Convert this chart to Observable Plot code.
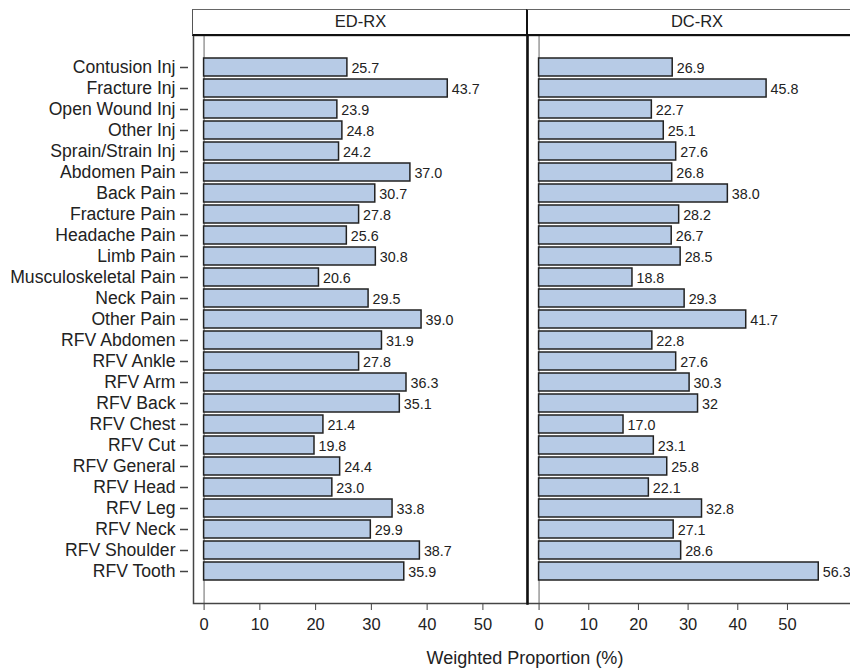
<!DOCTYPE html>
<html><head><meta charset="utf-8">
<script src="https://cdn.jsdelivr.net/npm/d3@7"></script>
<script src="https://cdn.jsdelivr.net/npm/@observablehq/plot@0.6"></script>
<style>
html,body{margin:0;padding:0;background:#fff;overflow:hidden;}
#wrap{position:relative;width:850px;height:669px;overflow:hidden;font-family:"Liberation Sans",Arial,sans-serif;color:#222;}
.strip{position:absolute;top:9px;height:27px;box-sizing:border-box;border-top:1.5px solid #666;border-bottom:2.5px solid #111;text-align:center;font-size:16.5px;line-height:23px;}
.pl{position:absolute;top:0;}
.pl svg{max-width:none !important;}
#xtitle{position:absolute;top:648px;left:325px;width:400px;text-align:center;font-size:18px;}
</style>
</head><body>
<div id="wrap">
  <div id="left" class="pl" style="left:0px;width:528px;"></div>
  <div id="right" class="pl" style="left:517px;width:345px;"></div>
  <div class="strip" style="left:192px;width:336px;border-left:1.5px solid #555;">ED-RX</div>
  <div class="strip" style="left:526px;width:340px;border-left:2.5px solid #111;">DC-RX</div>
  <div id="xtitle">Weighted Proportion (%)</div>
</div>
<script>
const categories = ["Contusion Inj","Fracture Inj","Open Wound Inj","Other Inj","Sprain/Strain Inj","Abdomen Pain","Back Pain","Fracture Pain","Headache Pain","Limb Pain","Musculoskeletal Pain","Neck Pain","Other Pain","RFV Abdomen","RFV Ankle","RFV Arm","RFV Back","RFV Chest","RFV Cut","RFV General","RFV Head","RFV Leg","RFV Neck","RFV Shoulder","RFV Tooth"];
const edValues = [25.7,43.7,23.9,24.8,24.2,37.0,30.7,27.8,25.6,30.8,20.6,29.5,39.0,31.9,27.8,36.3,35.1,21.4,19.8,24.4,23.0,33.8,29.9,38.7,35.9];
const dcValues = [26.9,45.8,22.7,25.1,27.6,26.8,38.0,28.2,26.7,28.5,18.8,29.3,41.7,22.8,27.6,30.3,32,17.0,23.1,25.8,22.1,32.8,27.1,28.6,56.3];
const edLabels = ["25.7","43.7","23.9","24.8","24.2","37.0","30.7","27.8","25.6","30.8","20.6","29.5","39.0","31.9","27.8","36.3","35.1","21.4","19.8","24.4","23.0","33.8","29.9","38.7","35.9"];
const dcLabels = ["26.9","45.8","22.7","25.1","27.6","26.8","38.0","28.2","26.7","28.5","18.8","29.3","41.7","22.8","27.6","30.3","32","17.0","23.1","25.8","22.1","32.8","27.1","28.6","56.3"];
const xTicks = [0,10,20,30,40,50];
const panelNames = ["ED-RX","DC-RX"];

function panel(values, labels, o) {
  const data = categories.map((c,i)=>({cat:c, v:values[i], lab:labels[i]}));
  return Plot.plot({
    width: o.width, height: 650,
    marginTop: 35, marginBottom: 47, marginLeft: o.ml, marginRight: o.mr,
    style: {fontFamily: "'Liberation Sans', Arial, sans-serif", background: "transparent", color: "#222"},
    x: {domain: o.xd, label: null},
    y: {domain: categories, paddingInner: 0.14, paddingOuter: 0.675, label: null, axis: o.yaxis ? undefined : null},
    marks: [
      Plot.ruleX([0], {stroke: "#999", strokeWidth: 1.5}),
      Plot.barX(data, {x: "v", y: "cat", fill: "#b7cbe6", stroke: "#222", strokeWidth: 1.5}),
      Plot.text(data, {x: "v", y: "cat", text: "lab", textAnchor: "start", dx: 4, dy: 1, fontSize: 14.3, fill: "#222"}),
      Plot.axisX({ticks: xTicks, tickSize: 7, tickPadding: 8, fontSize: 16.5, label: null, stroke: "#444", fill: "#222"}),
      o.yaxis ? Plot.axisY({tickSize: 8, tickPadding: 5, dx: -5, fontSize: 17.6, label: null, stroke: "#444", strokeWidth: 1.5, fill: "#222"}) : null,
      Plot.frame({stroke: "#444", strokeWidth: 1.5}),
      o.yaxis ? null : Plot.frame({anchor: "left", stroke: "#111", strokeWidth: 2.5})
    ]
  });
}

document.getElementById("left").appendChild(panel(edValues, edLabels, {width: 528, ml: 193, mr: 1, xd: [-1.9, 58], yaxis: true}));
document.getElementById("right").appendChild(panel(dcValues, dcLabels, {width: 345, ml: 10, mr: 5, xd: [-2.33, 64.1], yaxis: false}));
</script>
</body></html>
